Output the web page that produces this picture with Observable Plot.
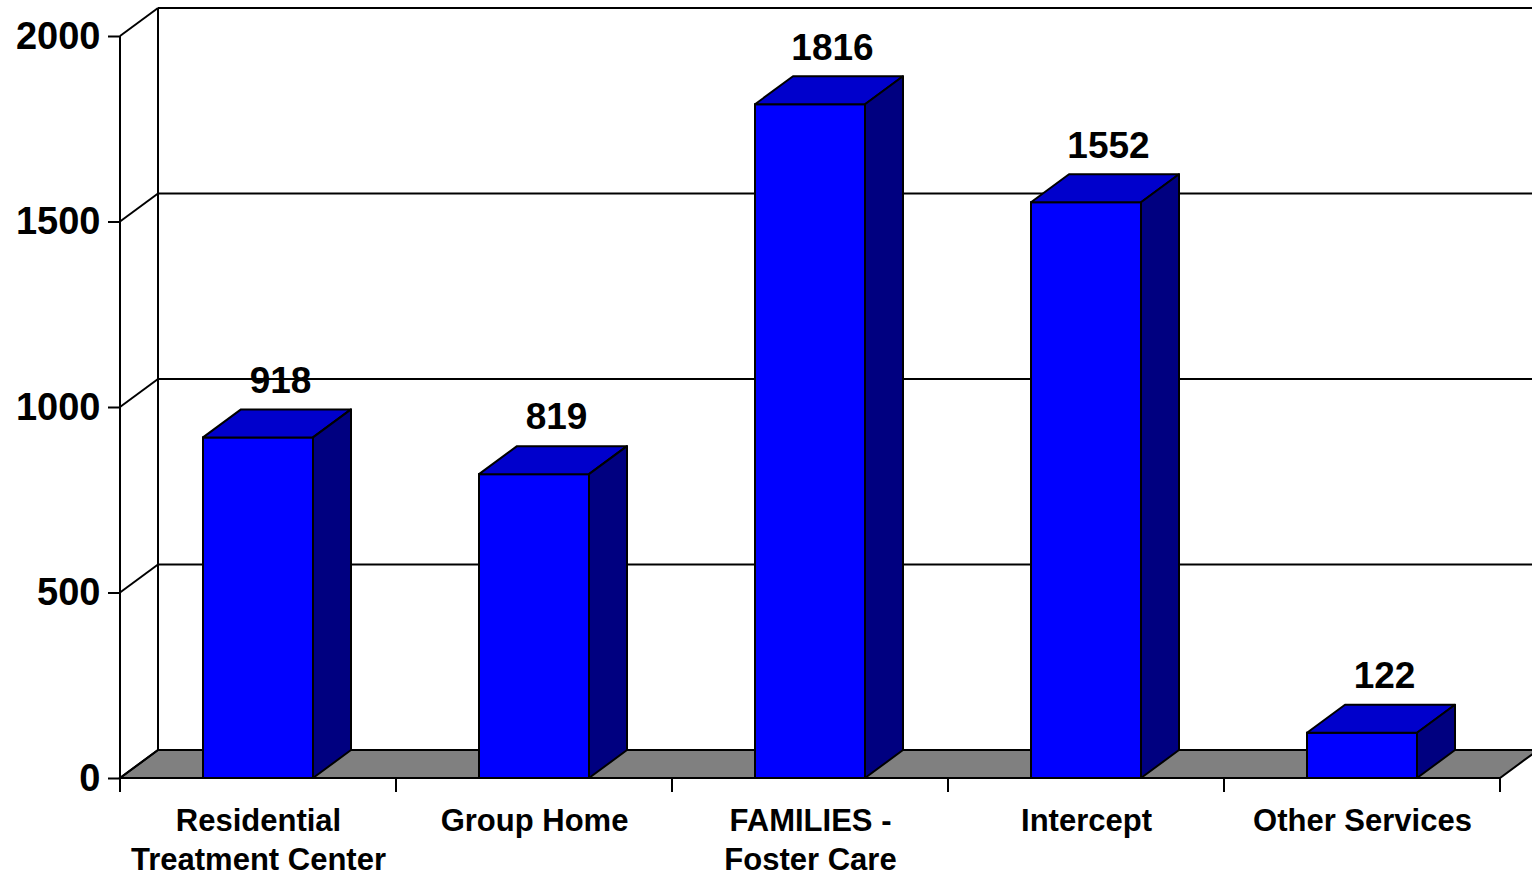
<!DOCTYPE html>
<html><head><meta charset="utf-8">
<script src="https://cdn.jsdelivr.net/npm/d3@7"></script>
<script src="https://cdn.jsdelivr.net/npm/@observablehq/plot@0.6"></script>
<style>html,body{margin:0;padding:0;background:#fff;overflow:hidden} svg{display:block}</style>
</head><body><div id="chart"></div>
<script>
const categories = ["Residential\nTreatment Center", "Group Home", "FAMILIES -\nFoster Care", "Intercept", "Other Services"];
const values = [918, 819, 1816, 1552, 122];
const yTicks = [0, 500, 1000, 1500, 2000];

const data = categories.map((c, i) => ({category: c, value: values[i]}));
const DX = 38, DY = -28;
const FONT = "'Liberation Sans', Arial, Helvetica, sans-serif";

function walls(index, scales, vals, dims) {
  const {x, y} = scales;
  const [x0, x1] = x.range();
  const y0 = y(0);
  const g = d3.create("svg:g").attr("stroke", "#000").attr("stroke-width", 2).attr("fill", "none");
  g.append("path").attr("fill", "#808080")
    .attr("d", `M${x0},${y0}L${x1},${y0}L${x1 + DX},${y0 + DY}L${x0 + DX},${y0 + DY}Z`);
  for (const t of yTicks) {
    g.append("line").attr("x1", x0 + DX).attr("x2", dims.width + 10).attr("y1", y(t) + DY).attr("y2", y(t) + DY);
    g.append("line").attr("x1", x0).attr("x2", x0 + DX).attr("y1", y(t)).attr("y2", y(t) + DY);
  }
  const yTop = y(yTicks[yTicks.length - 1]);
  g.append("line").attr("x1", x0 + DX).attr("x2", x0 + DX).attr("y1", y0 + DY).attr("y2", yTop + DY);
  g.append("line").attr("x1", x0).attr("x2", x0).attr("y1", y0).attr("y2", yTop);
  const n = x.domain().length;
  for (let i = 0; i <= n; i++) {
    const xb = x0 + i * x.step();
    g.append("line").attr("x1", xb).attr("x2", xb).attr("y1", y0).attr("y2", y0 + 14);
  }
  return g.node();
}

function bar3d(index, scales) {
  const {x, y} = scales;
  const bw = x.bandwidth();
  const g = d3.create("svg:g").attr("stroke", "#000").attr("stroke-width", 2).attr("stroke-linejoin", "round");
  for (const d of data) {
    const xl = x(d.category), xr = xl + bw, yt = y(d.value), yb = y(0);
    g.append("path").attr("fill", "#0000cc")
      .attr("d", `M${xl},${yt}L${xl + DX},${yt + DY}L${xr + DX},${yt + DY}L${xr},${yt}Z`);
    g.append("path").attr("fill", "#000080")
      .attr("d", `M${xr},${yt}L${xr + DX},${yt + DY}L${xr + DX},${yb + DY}L${xr},${yb}Z`);
  }
  return g.node();
}

const chart = Plot.plot({
  width: 1532,
  height: 876,
  marginLeft: 120,
  marginRight: 32,
  marginTop: 36,
  marginBottom: 98,
  style: `font-family:${FONT};font-weight:bold;color:#000;background:#fff;`,
  x: {domain: categories, paddingInner: 0.6, paddingOuter: 0.3, axis: null},
  y: {domain: [0, 2000], axis: null},
  marks: [
    walls,
    Plot.barY(data, {x: "category", y: "value", fill: "#0000ff", stroke: "#000", strokeWidth: 2}),
    bar3d,
    Plot.axisY(yTicks, {tickSize: 12, tickPadding: 8, fontSize: 38, strokeWidth: 2, label: null, tickFormat: d => String(d)}),
    Plot.text(data, {x: "category", y: "value", text: d => String(d.value), dx: 22, dy: -57, fontSize: 37, fontWeight: "bold"}),
    Plot.text(categories, {x: d => d, text: d => d, frameAnchor: "bottom", lineAnchor: "top", dy: 25, fontSize: 31, lineHeight: 1.25, fontWeight: "bold"})
  ]
});
document.getElementById("chart").appendChild(chart);
</script>
</body></html>
